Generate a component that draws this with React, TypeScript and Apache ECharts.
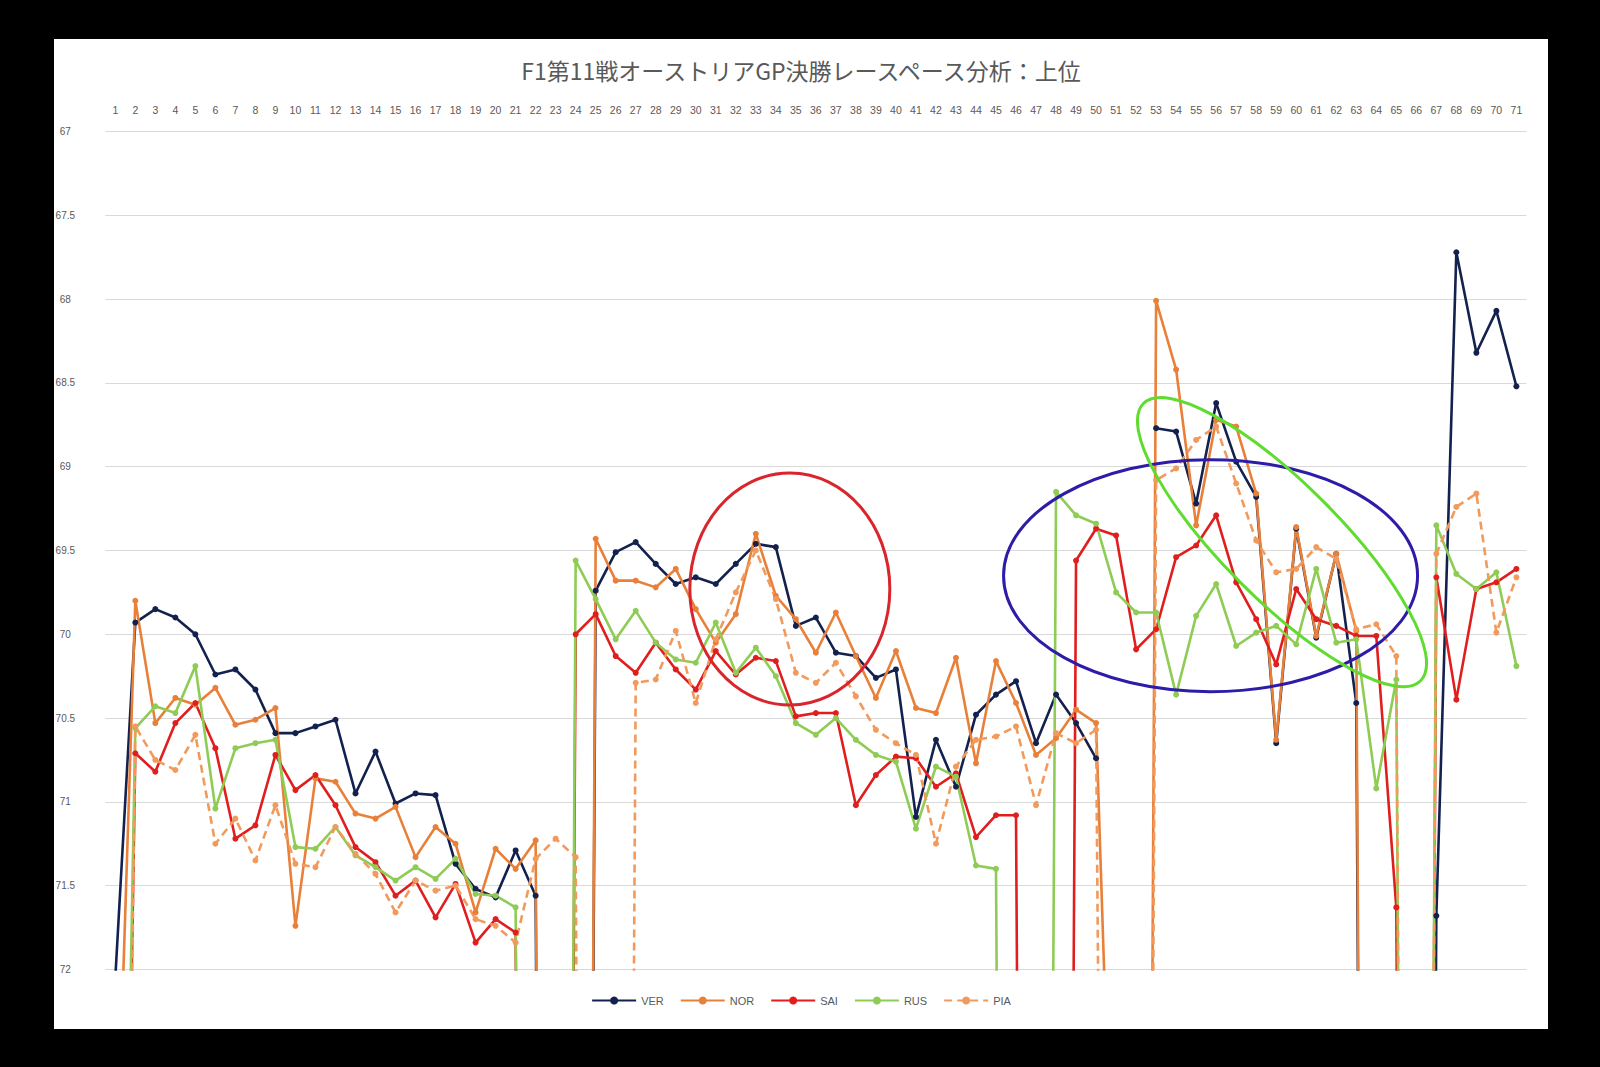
import React, { useEffect, useRef } from "react";
import * as echarts from "echarts";

const LAPS = [
  "1","2","3","4","5","6","7","8","9","10","11","12","13","14","15","16","17","18","19","20",
  "21","22","23","24","25","26","27","28","29","30","31","32","33","34","35","36","37","38","39","40",
  "41","42","43","44","45","46","47","48","49","50","51","52","53","54","55","56","57","58","59","60",
  "61","62","63","64","65","66","67","68","69","70","71",
];

// lap times (s); values beyond 72 run off the bottom of the chart
const VER = [
  72.05, 69.93, 69.85, 69.9, 70.0, 70.24, 70.21, 70.33, 70.59, 70.59,
  70.55, 70.51, 70.95, 70.7, 71.01, 70.95, 70.96, 71.37, 71.52, 71.57,
  71.29, 71.56, 90, 90, 69.74, 69.51, 69.45, 69.58, 69.7, 69.66,
  69.7, 69.58, 69.46, 69.48, 69.95, 69.9, 70.11, 70.13, 70.26, 70.21,
  71.09, 70.63, 70.91, 70.48, 70.36, 70.28, 70.65, 70.36, 70.53, 70.74,
  null, null, 68.77, 68.79, 69.22, 68.62, 68.97, 69.18, 70.65, 69.37,
  70.02, 69.52, 70.41, 90, 90, 90, 71.68, 67.72, 68.32, 68.07,
  68.52,
];
const NOR = [
  73.5, 69.8, 70.53, 70.38, 70.42, 70.32, 70.54, 70.51, 70.44, 71.74,
  70.86, 70.88, 71.07, 71.1, 71.03, 71.33, 71.15, 71.25, 71.66, 71.28,
  71.4, 71.23, 90, 90, 69.43, 69.68, 69.68, 69.72, 69.61, 69.85,
  70.05, 69.88, 69.4, 69.77, 69.91, 70.11, 69.87, 70.13, 70.38, 70.1,
  70.44, 70.47, 70.14, 70.77, 70.16, 70.41, 70.72, 70.62, 70.45, 70.53,
  74.2, 90, 68.01, 68.42, 69.35, 68.72, 68.76, 69.16, 70.63, 69.36,
  70.01, 69.52, 69.98, 90, null, null, null, null, null, null,
  null,
];
const SAI = [
  78, 70.71, 70.82, 70.53, 70.41, 70.68, 71.22, 71.14, 70.72, 70.93,
  70.84, 71.02, 71.27, 71.36, 71.56, 71.47, 71.69, 71.49, 71.84, 71.7,
  71.78, 90, 90, 70.0, 69.88, 70.13, 70.23, 70.05, 70.21, 70.33,
  70.1, 70.24, 70.14, 70.16, 70.49, 70.47, 70.47, 71.02, 70.84, 70.73,
  70.74, 70.91, 70.83, 71.21, 71.08, 71.08, 90, 90, 69.56, 69.37,
  69.41, 70.09, 69.97, 69.54, 69.47, 69.29, 69.69, 69.91, 70.18, 69.73,
  69.91, 69.95, 70.01, 70.01, 71.63, 90, 69.66, 70.39, 69.73, 69.69,
  69.61,
];
const RUS = [
  77, 70.56, 70.43, 70.47, 70.19, 71.04, 70.68, 70.65, 70.63, 71.27,
  71.28, 71.15, 71.32, 71.39, 71.47, 71.39, 71.46, 71.34, 71.55, 71.56,
  71.63, 90, 90, 69.56, 69.79, 70.03, 69.86, 70.05, 70.15, 70.17,
  69.93, 70.23, 70.08, 70.25, 70.53, 70.6, 70.5, 70.63, 70.72, 70.76,
  71.16, 70.79, 70.85, 71.38, 71.4, 90, 90, 69.15, 69.29, 69.34,
  69.75, 69.87, 69.87, 70.36, 69.89, 69.7, 70.07, 69.99, 69.95, 70.06,
  69.61, 70.05, 70.03, 70.92, 70.27, 90, 69.35, 69.64, 69.73, 69.63,
  70.19,
];
const PIA = [
  80, 70.55, 70.75, 70.81, 70.6, 71.25, 71.1, 71.35, 71.02, 71.37,
  71.39, 71.15, 71.31, 71.43, 71.66, 71.47, 71.53, 71.5, 71.7, 71.74,
  71.84, 71.34, 71.22, 71.33, 90, 90, 70.29, 70.27, 69.98, 70.41,
  70.03, 69.75, 69.5, 69.79, 70.23, 70.29, 70.17, 70.37, 70.57, 70.65,
  70.72, 71.25, 70.79, 70.63, 70.61, 70.55, 71.02, 70.59, 70.65, 70.57,
  85, 90, 69.08, 69.01, 68.84, 68.76, 69.1, 69.44, 69.63, 69.61,
  69.48, 69.55, 69.97, 69.94, 70.13, 90, 69.52, 69.24, 69.16, 69.99,
  69.66,
];

const Y_MIN = 67;
const Y_MAX = 72;
const Y_STEP = 0.5;

const TITLE = "F1第11戦オーストリアGP決勝レースペース分析：上位";

const SERIES_STYLE = [
  { name: "VER", data: VER, color: "#13214f", dash: "solid" as any },
  { name: "NOR", data: NOR, color: "#e8803a", dash: "solid" as any },
  { name: "SAI", data: SAI, color: "#e01e1e", dash: "solid" as any },
  { name: "RUS", data: RUS, color: "#8fcc55", dash: "solid" as any },
  { name: "PIA", data: PIA, color: "#f19a5c", dash: [8, 5] as any },
];

// hand-drawn annotation ellipses (centre in lap / seconds, radii in px)
const ANNOTATIONS = [
  { lap: 34.7, sec: 69.73, rx: 100, ry: 116, rotDeg: 0, color: "#d8262c" },
  { lap: 55.72, sec: 69.65, rx: 207, ry: 116, rotDeg: 0, color: "#2d1ca8" },
  { lap: 59.29, sec: 69.45, rx: 196, ry: 58, rotDeg: -45, color: "#5fdc2f" },
];

const TEXT_COLOR = "#595959";
const FONT = '"Liberation Sans", "Noto Sans", sans-serif';

export default function App() {
  const ref = useRef<HTMLDivElement>(null);

  useEffect(() => {
    if (!ref.current) return;
    const chart = echarts.init(ref.current, undefined, { renderer: "svg" });
    const option: any = {
      animation: false,
      backgroundColor: "#ffffff",
      textStyle: { fontFamily: FONT },
      title: {
        text: TITLE,
        left: "center",
        top: 14,
        textStyle: {
          fontFamily: '"Noto Sans CJK JP", sans-serif',
          fontSize: 23,
          fontWeight: "normal",
          color: TEXT_COLOR,
        },
      },
      legend: {
        bottom: 18,
        left: "center",
        itemWidth: 44,
        itemHeight: 10,
        itemGap: 16,
        textStyle: { color: TEXT_COLOR, fontSize: 11, fontFamily: FONT },
        data: SERIES_STYLE.map((s) => s.name),
      },
      grid: {
        left: 51.3,
        right: 21.6,
        top: 92.6,
        bottom: 59.6,
        containLabel: false,
        outerBoundsMode: "none",
      },
      xAxis: {
        type: "category",
        data: LAPS,
        position: "top",
        boundaryGap: true,
        axisLine: { show: false },
        axisTick: { show: false },
        splitLine: { show: false },
        axisLabel: {
          interval: 0,
          fontSize: 10.5,
          color: TEXT_COLOR,
          margin: 16,
          fontFamily: FONT,
        },
      },
      yAxis: {
        type: "value",
        inverse: true,
        min: Y_MIN,
        max: Y_MAX,
        interval: Y_STEP,
        axisLine: { show: false },
        axisTick: { show: false },
        splitLine: { lineStyle: { color: "#d9d9d9", width: 1 } },
        axisLabel: {
          fontSize: 10,
          color: TEXT_COLOR,
          margin: 40,
          align: "center",
          fontFamily: FONT,
        },
      },
      series: SERIES_STYLE.map((s) => ({
        name: s.name,
        type: "line",
        data: s.data,
        clip: true,
        connectNulls: false,
        symbol: "circle",
        symbolSize: 6,
        showSymbol: true,
        lineStyle: { color: s.color, width: 2.6, type: s.dash },
        itemStyle: { color: s.color },
        emphasis: { disabled: true },
      })),
    };
    chart.setOption(option);

    const p0 = chart.convertToPixel({ xAxisIndex: 0, yAxisIndex: 0 }, [0, Y_MIN]) as number[];
    const p1 = chart.convertToPixel({ xAxisIndex: 0, yAxisIndex: 0 }, [LAPS.length - 1, Y_MAX]) as number[];
    const lapToX = (lap: number) => p0[0] + ((lap - 1) * (p1[0] - p0[0])) / (LAPS.length - 1);
    const secToY = (v: number) => p0[1] + ((v - Y_MIN) * (p1[1] - p0[1])) / (Y_MAX - Y_MIN);

    chart.setOption({
      graphic: {
        elements: ANNOTATIONS.map((a) => ({
          type: "ellipse",
          x: lapToX(a.lap),
          y: secToY(a.sec),
          rotation: (a.rotDeg * Math.PI) / 180,
          shape: { cx: 0, cy: 0, rx: a.rx, ry: a.ry },
          style: { fill: "none", stroke: a.color, lineWidth: 3 },
          silent: true,
          z: 100,
        })),
      },
    });

    return () => chart.dispose();
  }, []);

  return (
    <div
      style={{
        position: "fixed",
        left: 0,
        top: 0,
        width: 1600,
        height: 1067,
        background: "#000000",
      }}
    >
      <div
        ref={ref}
        style={{
          position: "absolute",
          left: 54,
          top: 39,
          width: 1494,
          height: 990,
          background: "#ffffff",
        }}
      />
    </div>
  );
}
